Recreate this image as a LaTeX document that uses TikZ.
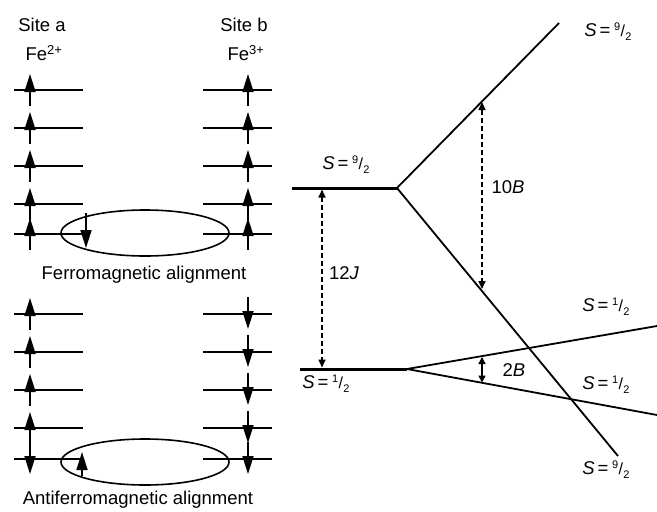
\documentclass[tikz,border=0pt]{standalone}
\usepackage{fontspec}
\setmainfont{Liberation Sans}
\usetikzlibrary{arrows.meta}
% spin quantum number written as a slashed fraction, e.g. 9/2
\newcommand\slashfrac[2]{\raisebox{0.6ex}{\fontsize{11}{11}\selectfont #1}\kern0.02em{\fontsize{16}{16}\selectfont/}\kern0.02em\raisebox{-0.45ex}{\fontsize{11}{11}\selectfont #2}}
\newcommand\spinS[2]{\textit{S}\kern0.15em=\kern0.2em\slashfrac{#1}{#2}}
\begin{document}
\begin{tikzpicture}[x=1pt,y=-1pt,
  lbl/.style={font=\fontsize{18.5}{20}\selectfont, inner sep=0pt},
  orbital/.style={line width=2pt},
  spinarrow/.style={line width=1.7pt,-{Triangle[length=18pt,width=11pt]}},
  shell/.style={line width=1.6pt},
  level/.style={line width=3pt},
  branch/.style={line width=1.8pt},
  gap/.style={line width=1.6pt,dash pattern=on 5pt off 3pt,{Triangle[length=8pt,width=7pt]}-{Triangle[length=8pt,width=7pt]}},
  smallgap/.style={line width=1.5pt,{Triangle[length=7pt,width=7pt]}-{Triangle[length=7pt,width=7pt]}}
]
\useasboundingbox (0,0) rectangle (657,512);

% ---------- site headings ----------
\node[lbl] (sitea) at (42,25) {Site a};
\node[lbl] (fea) at (44,53) {Fe\textsuperscript{2+}};
\node[lbl] (siteb) at (244,25) {Site b};
\node[lbl] (feb) at (246,53) {Fe\textsuperscript{3+}};

% ---------- ferromagnetic case ----------
\foreach \y in {90,128,166,204,234} {
  \draw[orbital] (14,\y) -- (83,\y);
  \draw[orbital] (203,\y) -- (272,\y);
  \draw[spinarrow] (30,\y+16) -- (30,\y-16);
  \draw[spinarrow] (248,\y+16) -- (248,\y-16);
}
\draw[shell] (145,233) ellipse [x radius=84, y radius=23];
\draw[spinarrow] (86,213) -- (86,248);
\node[lbl] (ferro) at (144,275) {Ferromagnetic alignment};

% ---------- antiferromagnetic case ----------
\foreach \y in {314,352,390,428,459} {
  \draw[orbital] (14,\y) -- (83,\y);
  \draw[orbital] (203,\y) -- (272,\y);
  \draw[spinarrow] (248,\y-17) -- (248,\y+15);
}
\foreach \y in {314,352,390,428} {
  \draw[spinarrow] (30,\y+16) -- (30,\y-16);
}
\draw[spinarrow] (30,444) -- (30,474);
\draw[shell] (145,462) ellipse [x radius=84, y radius=23];
\draw[spinarrow] (82,476) -- (82,452);
\node[lbl] (antiferro) at (138,500) {Antiferromagnetic alignment};

% ---------- energy levels ----------
\coordinate (hiL) at (292,188);
\coordinate (hiR) at (397,188);
\coordinate (loL) at (300,369);
\coordinate (loR) at (407,369);
\coordinate (hiUp) at (559,23);
\coordinate (hiDn) at (618,456);
\coordinate (loUp) at (657,326);
\coordinate (loDn) at (657,415);

\draw[level] (hiL) -- (hiR);
\draw[level] (loL) -- (loR);
\draw[branch] (hiR) -- (hiUp);
\draw[branch] (hiR) -- (hiDn);
\draw[branch] (loR) -- (loUp);
\draw[branch] (loR) -- (loDn);

\node[lbl] (s9top) at (346,165) {\spinS{9}{2}};
\node[lbl] (s1low) at (326,384) {\spinS{1}{2}};
\node[lbl] (s9a) at (608,32) {\spinS{9}{2}};
\node[lbl] (s1a) at (606,307) {\spinS{1}{2}};
\node[lbl] (s1b) at (606,385) {\spinS{1}{2}};
\node[lbl] (s9b) at (606,470) {\spinS{9}{2}};

% ---------- splittings ----------
\coordinate (jTop) at (322,189.5);
\coordinate (jBot) at (322,367.5);
\draw[gap] (jTop) -- (jBot);
\node[lbl] (twelveJ) at (344,273) {12\textit{J}};

\coordinate (bTop) at (482,102);
\coordinate (bBot) at (482,289);
\draw[gap] (bTop) -- (bBot);
\node[lbl] (tenB) at (508,187) {10\textit{B}};

\coordinate (sTop) at (482,357);
\coordinate (sBot) at (482,382.5);
\draw[smallgap] (sTop) -- (sBot);
\node[lbl] (twoB) at (514,370) {2\textit{B}};
\end{tikzpicture}
\end{document}
